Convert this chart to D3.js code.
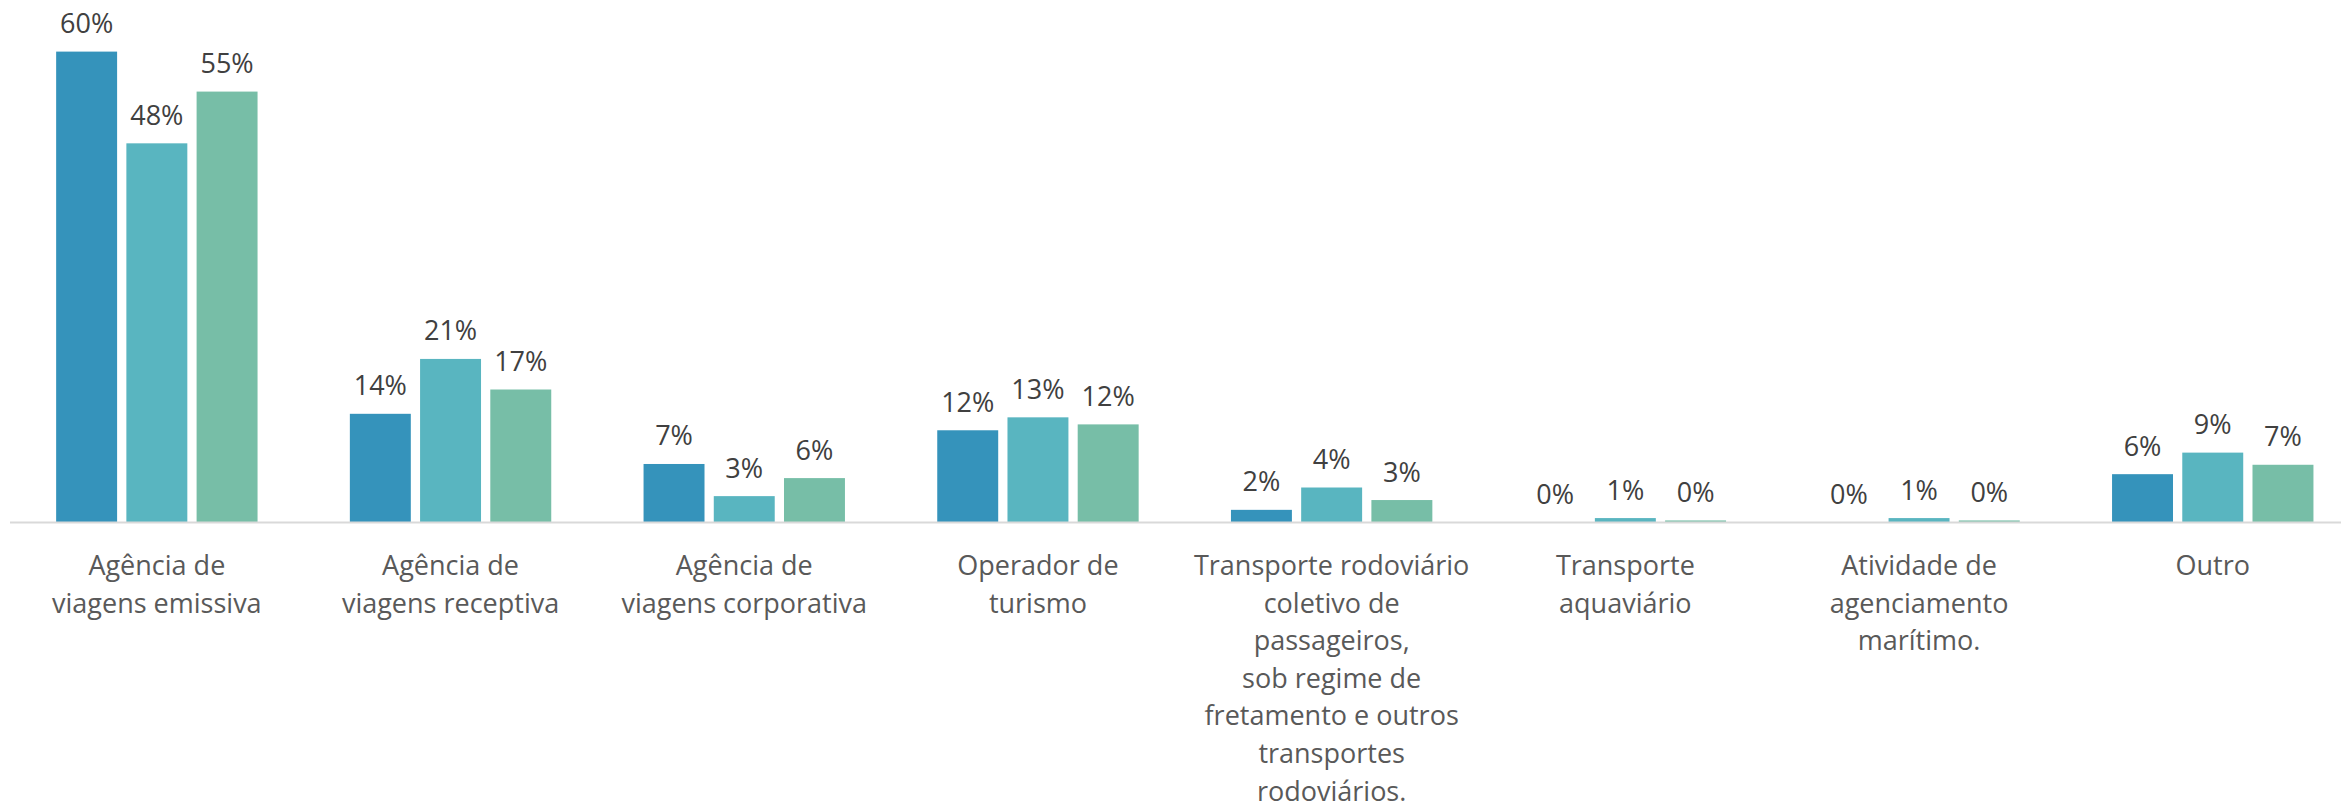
<!DOCTYPE html>
<html>
<head>
<meta charset="utf-8">
<script src="https://cdn.jsdelivr.net/npm/d3@7"></script>
<style>
  html, body { margin: 0; padding: 0; background: #ffffff; }
  svg { display: block; }
</style>
</head>
<body>
<svg id="chart" width="2341" height="812"></svg>
<script>
// ---- Data ----
const categories = [
  ["Agência de", "viagens emissiva"],
  ["Agência de", "viagens receptiva"],
  ["Agência de", "viagens corporativa"],
  ["Operador de", "turismo"],
  ["Transporte rodoviário", "coletivo de", "passageiros,", "sob regime de", "fretamento e outros", "transportes", "rodoviários."],
  ["Transporte", "aquaviário"],
  ["Atividade de", "agenciamento", "marítimo."],
  ["Outro"]
];
const seriesNames = ["Série 1", "Série 2", "Série 3"];
const series1 = [0.600, 0.138, 0.074, 0.117, 0.0155, 0.000, 0.000, 0.061];
const series2 = [0.483, 0.208, 0.033, 0.1335, 0.044, 0.005, 0.005, 0.0885];
const series3 = [0.549, 0.169, 0.056, 0.1245, 0.028, 0.002, 0.002, 0.073];
const seriesColors = ["#3593BB", "#59B5C0", "#77BEA7"];

// ---- Layout ----
const svg = d3.select("#chart");
const baseY = 522;
const catIds = categories.map((c, i) => i);
const allSeries = [series1, series2, series3];

const x0 = d3.scaleBand().domain(catIds).range([10, 2359.6]).padding(0);
const x1 = d3.scaleBand().domain(seriesNames).range([46.15, 247.55]).paddingInner(0.132).paddingOuter(0);
const y = d3.scaleLinear().domain([0, 0.6]).range([baseY, baseY - 470.4]);
const color = d3.scaleOrdinal().domain(seriesNames).range(seriesColors);
const fmt = d3.format(".0%");

const rows = [];
catIds.forEach(ci => {
  seriesNames.forEach((s, si) => rows.push({ ci, s, v: allSeries[si][ci] }));
});

// Bars
svg.append("g").selectAll("rect").data(rows).join("rect")
  .attr("x", d => x0(d.ci) + x1(d.s))
  .attr("y", d => y(d.v))
  .attr("width", x1.bandwidth())
  .attr("height", d => baseY - y(d.v))
  .attr("fill", d => color(d.s));

// Axis line (category axis)
const xAxis = d3.axisBottom(x0).tickSize(0).tickFormat("");
const axG = svg.append("g").attr("transform", `translate(0,${baseY + 0.5})`).call(xAxis);
axG.select(".domain").attr("stroke", "#d9d9d9").attr("stroke-width", 2)
  .attr("d", `M10,0H2341`);

// Value labels
svg.append("g").selectAll("text").data(rows).join("text")
  .attr("x", d => x0(d.ci) + x1(d.s) + x1.bandwidth() / 2)
  .attr("y", d => y(d.v) - 18.5)
  .attr("text-anchor", "middle")
  .attr("font-family", "'Open Sans', 'Noto Sans', sans-serif")
  .attr("font-size", 27)
  .attr("fill", "#404040")
  .text(d => fmt(d.v));

// Category labels
const catG = svg.append("g");
catIds.forEach(ci => {
  const t = catG.append("text")
    .attr("x", x0(ci) + x0.bandwidth() / 2)
    .attr("y", 575)
    .attr("text-anchor", "middle")
    .attr("font-family", "'Open Sans', 'Noto Sans', sans-serif")
    .attr("font-size", 27)
    .attr("fill", "#595959");
  categories[ci].forEach((line, li) => {
    t.append("tspan")
      .attr("x", x0(ci) + x0.bandwidth() / 2)
      .attr("y", 575 + li * 37.6)
      .text(line);
  });
});
</script>
</body>
</html>
